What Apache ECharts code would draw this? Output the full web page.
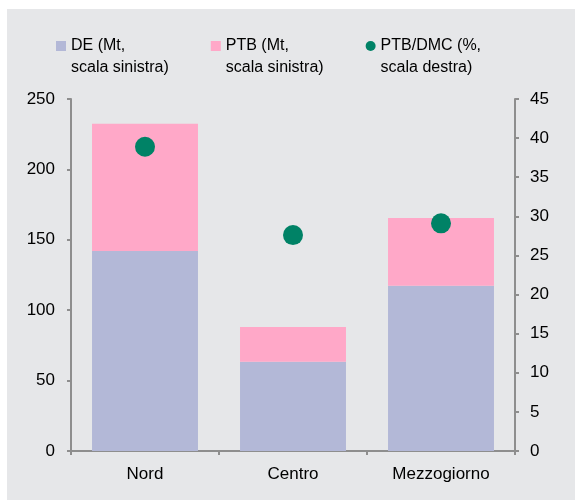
<!DOCTYPE html>
<html>
<head>
<meta charset="utf-8">
<script src="https://cdn.jsdelivr.net/npm/echarts@6/dist/echarts.min.js"></script>
<style>
html,body{margin:0;padding:0;background:#ffffff;}
#chart{width:575px;height:500px;}
</style>
</head>
<body>
<div id="chart"></div>
<script>
const categories = ['Nord', 'Centro', 'Mezzogiorno'];
const deValues = [142, 63.4, 117.4];
const ptbValues = [90.4, 24.7, 48.1];
const ratioValues = [38.9, 27.6, 29.1];
const seriesNames = ['DE (Mt,\nscala sinistra)', 'PTB (Mt,\nscala sinistra)', 'PTB/DMC (%,\nscala destra)'];

const chart = echarts.init(document.getElementById('chart'), null, {renderer: 'canvas'});
const axisColor = '#8e8e8e';
const textColor = '#000000';
const fontFamily = '"Liberation Sans", Arial, sans-serif';

chart.setOption({
  animation: false,
  backgroundColor: 'transparent',
  graphic: [{
    type: 'rect', silent: true, z: -10,
    shape: {x: 7, y: 9, width: 568, height: 491},
    style: {fill: '#e6e7e9'}
  }],
  legend: {
    top: 8,
    left: 51,
    itemGap: 42,
    itemWidth: 10,
    itemHeight: 10,
    formatter: function (name) { return ' \n' + name; },
    data: [
      {name: seriesNames[0], icon: 'rect'},
      {name: seriesNames[1], icon: 'rect'},
      {name: seriesNames[2], icon: 'circle'}
    ],
    textStyle: {
      fontFamily: fontFamily, fontSize: 16, color: textColor,
      lineHeight: 22
    }
  },
  grid: {left: 71, right: 60, top: 99, bottom: 49, containLabel: false},
  xAxis: {
    type: 'category',
    data: categories,
    axisLine: {lineStyle: {color: axisColor, width: 2}},
    axisTick: {show: true, length: 4, lineStyle: {color: axisColor, width: 2}},
    axisLabel: {fontFamily: fontFamily, fontSize: 17, color: textColor, margin: 15}
  },
  yAxis: [{
    type: 'value', min: 0, max: 250, interval: 50, position: 'left',
    splitLine: {show: false},
    axisLine: {show: true, lineStyle: {color: axisColor, width: 2}},
    axisTick: {show: true, length: 4, lineStyle: {color: axisColor, width: 2}},
    axisLabel: {fontFamily: fontFamily, fontSize: 17, color: textColor, margin: 16}
  }, {
    type: 'value', min: 0, max: 45, interval: 5, position: 'right',
    splitLine: {show: false},
    axisLine: {show: true, lineStyle: {color: axisColor, width: 2}},
    axisTick: {show: true, length: 4, lineStyle: {color: axisColor, width: 2}},
    axisLabel: {fontFamily: fontFamily, fontSize: 17, color: textColor, margin: 15}
  }],
  series: [{
    name: seriesNames[0], type: 'bar', stack: 'mt', data: deValues,
    barCategoryGap: '28.4%',
    itemStyle: {color: '#b3b8d7'}
  }, {
    name: seriesNames[1], type: 'bar', stack: 'mt', data: ptbValues,
    itemStyle: {color: '#ffa8c8'}
  }, {
    name: seriesNames[2], type: 'scatter', yAxisIndex: 1, data: ratioValues,
    symbol: 'circle', symbolSize: 20, z: 5,
    itemStyle: {color: '#008266', opacity: 1}
  }]
});
</script>
</body>
</html>
